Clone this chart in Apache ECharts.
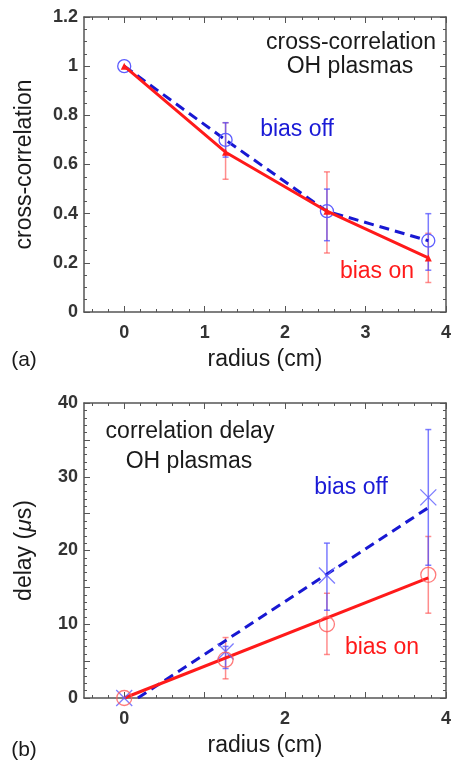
<!DOCTYPE html>
<html>
<head>
<meta charset="utf-8">
<script src="https://cdn.jsdelivr.net/npm/echarts@6/dist/echarts.min.js"></script>
<style>
  html, body { margin: 0; padding: 0; background: #fff; }
  #main { width: 454px; height: 766px; }
</style>
</head>
<body>
<div id="main"></div>
<script>
// data
const radius = [0, 1.26, 2.52, 3.78]

// (a) cross-correlation
const corrOff = [1.0, 0.70, 0.41, 0.29]
const corrOn = [1.0, 0.65, 0.41, 0.22]
const corrOffLow = [null, 0.63, 0.29, 0.17]
const corrOffHigh = [null, 0.77, 0.50, 0.40]
const corrOnLow = [null, 0.54, 0.24, 0.12]
const corrOnHigh = [null, 0.77, 0.57, 0.32]

// (b) correlation delay
const delayOff = [0, 6.3, 16.6, 27.2]
const delayOn = [0, 5.2, 10.0, 16.7]
const delayOffLow = [null, 4.0, 11.9, 18.0]
const delayOffHigh = [null, 7.0, 21.0, 36.4]
const delayOnLow = [null, 2.6, 5.9, 11.5]
const delayOnHigh = [null, 8.2, 14.2, 21.9]
// fitted lines (end points)
const delayOffFit = [[0.17, 0], [3.78, 25.8]]
const delayOnFit = [[0, 0], [3.78, 16.3]]

// ticks
const xMajor = [0, 1, 2, 3, 4]
const xLabelsA = [0, 1, 2, 3, 4]
const xLabelsB = [0, 2, 4]
const xMinor = []
for (let i = -2; i <= 20; i++) {
    if (i % 5 !== 0) xMinor.push(i / 5)
}

const font = "'Liberation Sans', Arial, Helvetica, sans-serif"
const blue = '#1818d2'
const blueLight = 'rgba(80, 80, 255, 0.75)'
const red = '#ff1a1a'
const redLight = 'rgba(255, 80, 80, 0.65)'
const frame = '#555'

const pairs = (xs, ys) => xs.map((x, i) => [x, ys[i]])
const errData = (lo, hi) => radius.map((r, i) => [r, lo[i], hi[i]]).filter(d => d[1] !== null)

const errRender = (color) => (params, api) => {
    let x = api.value(0)
    let a = api.coord([x, api.value(1)])
    let b = api.coord([x, api.value(2)])
    let w = 3
    let st = { stroke: color, lineWidth: 1.5 }
    return {
        type: 'group',
        children: [
            { type: 'line', shape: { x1: a[0], y1: a[1], x2: b[0], y2: b[1] }, style: st },
            { type: 'line', shape: { x1: a[0] - w, y1: a[1], x2: a[0] + w, y2: a[1] }, style: st },
            { type: 'line', shape: { x1: b[0] - w, y1: b[1], x2: b[0] + w, y2: b[1] }, style: st },
        ]
    }
}

const tickLabel = { color: '#333', fontSize: 18, fontWeight: 'bold', fontFamily: font }
const nameStyle = { color: '#1a1a1a', fontSize: 23, fontFamily: font }
const line = { show: true, onZero: false, lineStyle: { color: frame, width: 1.5 } }

const xAxes = (grid, overlay, labels) => [
    {
        gridIndex: grid, type: 'value', min: -0.5, max: 4, position: 'bottom',
        name: 'radius (cm)', nameLocation: 'middle', nameGap: 36, nameTextStyle: nameStyle,
        axisLine: line,
        axisTick: { inside: true, length: 6, customValues: xMajor, lineStyle: { color: frame } },
        axisLabel: { customValues: labels, margin: 12, ...tickLabel },
        splitLine: { show: false },
    },
    {
        gridIndex: grid, type: 'value', min: -0.5, max: 4, position: 'top',
        axisLine: line,
        axisTick: { inside: true, length: 6, customValues: xMajor, lineStyle: { color: frame } },
        axisLabel: { show: false },
        splitLine: { show: false },
    },
    {
        gridIndex: overlay, type: 'value', min: -0.5, max: 4, position: 'bottom',
        axisLine: { show: false, onZero: false },
        axisTick: { inside: true, length: 3, customValues: xMinor, lineStyle: { color: frame } },
        axisLabel: { show: false },
        splitLine: { show: false },
    },
    {
        gridIndex: overlay, type: 'value', min: -0.5, max: 4, position: 'top',
        axisLine: { show: false, onZero: false },
        axisTick: { inside: true, length: 3, customValues: xMinor, lineStyle: { color: frame } },
        axisLabel: { show: false },
        splitLine: { show: false },
    },
]

const yAxes = (grid, overlay, max, interval, minorSplit, name, formatter) => [
    {
        gridIndex: grid, type: 'value', min: 0, max: max, interval: interval, position: 'left',
        name: name, nameLocation: 'middle', nameGap: 48,
        nameTextStyle: {
            ...nameStyle,
            rich: {
                n: { fontSize: 23, fontFamily: font, color: '#1a1a1a' },
                i: { fontSize: 23, fontFamily: font, color: '#1a1a1a', fontStyle: 'italic' },
            }
        },
        axisLine: line,
        axisTick: { show: true, inside: true, length: 6, lineStyle: { color: frame } },
        minorTick: { show: true, splitNumber: minorSplit, length: 3, lineStyle: { color: frame } },
        axisLabel: { margin: 6, formatter: formatter, ...tickLabel },
        splitLine: { show: false },
    },
    {
        gridIndex: grid, type: 'value', min: 0, max: max, interval: interval, position: 'right',
        axisLine: line,
        axisTick: { show: true, inside: true, length: 6, lineStyle: { color: frame } },
        minorTick: { show: true, splitNumber: minorSplit, length: 3, lineStyle: { color: frame } },
        axisLabel: { show: false },
        splitLine: { show: false },
    },
    {
        gridIndex: overlay, type: 'value', min: 0, max: max, show: false,
    },
]

const txt = (text, x, y, color, size) => ({
    type: 'text', x: x, y: y, z: 100,
    style: {
        text: text, fill: color, font: `${size || 23}px ${font}`,
        textAlign: 'center', textVerticalAlign: 'middle',
    }
})

const gridA = { left: 84, right: 7, top: 17, height: 295 }
const gridB = { left: 84, right: 7, top: 403, height: 295 }

let option = {
    animation: false,
    backgroundColor: '#fff',
    grid: [gridA, gridA, gridB, gridB],
    xAxis: [...xAxes(0, 1, xLabelsA), ...xAxes(2, 3, xLabelsB)],
    yAxis: [
        ...yAxes(0, 1, 1.2, 0.2, 4, 'cross-correlation', null),
        ...yAxes(2, 3, 40, 5, 5, '{n|delay (}{i|μ}{n|s)}', v => (v % 10 === 0 ? String(v) : '')),
    ],
    graphic: [
        txt('cross-correlation', 351, 43, '#1a1a1a'),
        txt('OH plasmas', 350, 67, '#1a1a1a'),
        txt('bias off', 297, 130, '#1a1ad6'),
        txt('bias on', 377, 272, red),
        txt('(a)', 24, 360, '#1a1a1a', 21),
        txt('correlation delay', 190, 432, '#1a1a1a'),
        txt('OH plasmas', 189, 462, '#1a1a1a'),
        txt('bias off', 351, 488, '#1a1ad6'),
        txt('bias on', 382, 648, red),
        txt('(b)', 24, 750, '#1a1a1a', 21),
    ],
    series: [
        // (a)
        {
            type: 'custom', xAxisIndex: 0, yAxisIndex: 0, z: 1,
            renderItem: errRender(redLight), data: errData(corrOnLow, corrOnHigh),
        },
        {
            type: 'custom', xAxisIndex: 0, yAxisIndex: 0, z: 1,
            renderItem: errRender(blueLight), data: errData(corrOffLow, corrOffHigh),
        },
        {
            type: 'line', xAxisIndex: 0, yAxisIndex: 0, z: 3,
            data: pairs(radius, corrOff),
            symbol: 'circle', symbolSize: 13,
            itemStyle: { color: 'transparent', borderColor: '#5c5cff', borderWidth: 1.3 },
            lineStyle: { color: blue, width: 3, type: [10, 6] },
        },
        {
            type: 'line', xAxisIndex: 0, yAxisIndex: 0, z: 4,
            data: pairs(radius, corrOn),
            symbol: 'triangle', symbolSize: 7,
            itemStyle: { color: red },
            lineStyle: { color: red, width: 3 },
        },
        // (b)
        {
            type: 'custom', xAxisIndex: 4, yAxisIndex: 3, z: 1,
            renderItem: errRender(redLight), data: errData(delayOnLow, delayOnHigh),
        },
        {
            type: 'custom', xAxisIndex: 4, yAxisIndex: 3, z: 1,
            renderItem: errRender(blueLight), data: errData(delayOffLow, delayOffHigh),
        },
        {
            type: 'line', xAxisIndex: 4, yAxisIndex: 3, z: 3,
            data: delayOffFit, symbol: 'none',
            lineStyle: { color: blue, width: 3, type: [10, 6] },
        },
        {
            type: 'line', xAxisIndex: 4, yAxisIndex: 3, z: 4,
            data: delayOnFit, symbol: 'none',
            lineStyle: { color: red, width: 3 },
        },
        {
            type: 'scatter', xAxisIndex: 4, yAxisIndex: 3, z: 5,
            data: pairs(radius, delayOff),
            symbol: 'path://M0,0L10,10M10,0L0,10', symbolSize: 16,
            itemStyle: { color: 'transparent', borderColor: '#5c5cff', borderWidth: 1.3 },
        },
        {
            type: 'scatter', xAxisIndex: 4, yAxisIndex: 3, z: 5,
            data: pairs(radius, delayOn),
            symbol: 'circle', symbolSize: 15,
            itemStyle: { color: 'transparent', borderColor: '#ff5a5a', borderWidth: 1.3 },
        },
    ]
}

let chart = echarts.init(document.querySelector('#main'))
chart.setOption(option)
</script>
</body>
</html>
